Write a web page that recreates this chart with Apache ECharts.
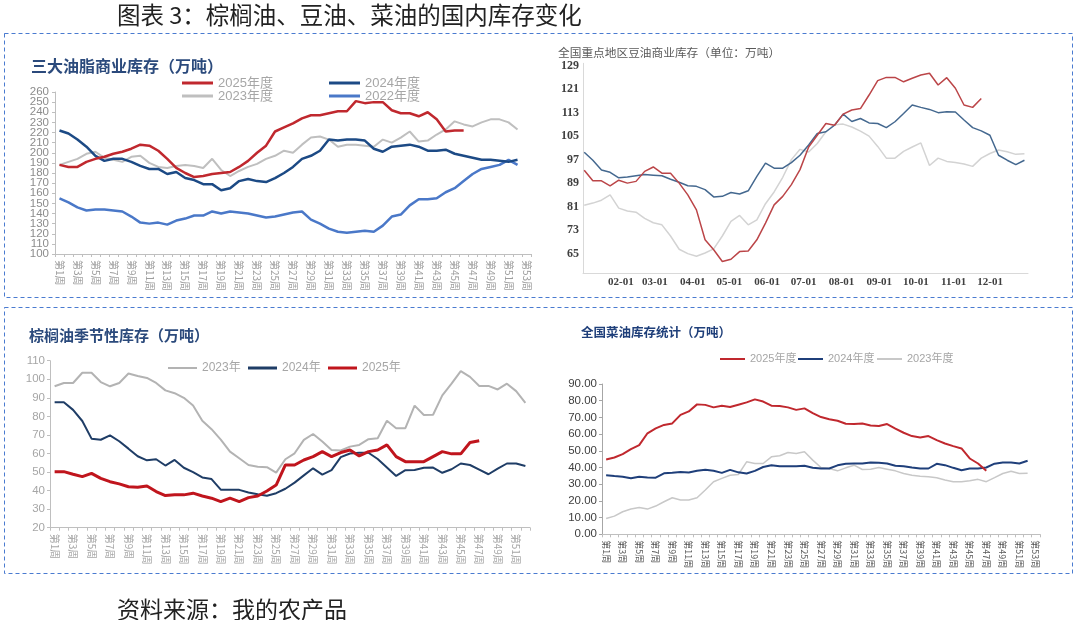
<!DOCTYPE html>
<html><head><meta charset="utf-8">
<script src="https://cdn.jsdelivr.net/npm/echarts@6/dist/echarts.min.js"></script>
<style>html,body{margin:0;padding:0;background:#fff}#c{width:1080px;height:620px}</style>
</head><body><div id="c"></div>
<script>
// ---------- categories / tick labels ----------
const weeks53 = Array.from({length:53},(_,i)=>'第'+(i+1)+'周');
const weeks52 = weeks53.slice(0,52);
const monthTicks = [31,59,90,120,151,181,212,243,273,304,334];
const monthLabels = ['02-01','03-01','04-01','05-01','06-01','07-01','08-01','09-01','10-01','11-01','12-01'];
const soyYTicks = [65,73,81,89,97,105,113,121,129];
const oilYTicksEven = [100,120,140,160,180,200,220,240,260];
const oilYTicksOdd = [110,130,150,170,190,210,230,250];

// ---------- panel 1: 三大油脂商业库存 (weekly) ----------
const oil2025 = [188,186,186,191,194,196,199,201,204,208,207,202,194,185,180,176,177,179,180,181,186,192,200,207,221,225,229,234,237,237,239,241,241,251,249,250,250,242,239,239,236,240,233,221,222,222];
const oil2024 = [222,219,213,206,197,192,194,194,191,187,184,184,179,181,175,173,169,169,163,165,172,174,172,171,175,180,186,194,197,202,213,212,213,213,212,204,201,206,207,208,206,202,202,203,199,197,195,193,193,192,191,193];
const oil2023 = [188,191,194,199,201,195,193,191,196,197,190,186,185,187,188,187,185,194,183,177,182,186,189,194,197,202,200,208,215,216,213,206,208,208,207,206,213,210,215,221,211,212,218,223,231,228,226,230,233,233,230,223];
const oil2022 = [155,151,146,143,144,144,143,142,137,131,130,131,129,133,135,138,138,142,140,142,141,140,138,136,137,139,141,142,134,130,125,122,121,122,123,122,128,137,139,148,154,154,155,161,165,172,179,184,186,188,193,188];

// ---------- panel 2: 豆油商业库存 (weekly from Jan 1) ----------
const soy2025 = [93.4,89.8,89.8,88.1,90,89,89.6,93,94.5,92.4,92.4,89,85,79.9,69.7,66.3,62.3,63.1,65.7,65.9,69.7,75.4,81.6,84.5,88.5,93.6,101.3,105.3,109.3,108.7,112.5,113.9,114.4,119,123.9,125,125,123.5,124.7,125.8,126.4,122.4,124.9,121.3,115.6,114.8,117.8];
const soy2024 = [99.5,96.8,93.5,92.7,90.8,91.1,91.5,91.9,91.7,91.5,90.3,89.3,88.1,87.9,86.8,84.3,84.5,85.8,85.3,86.4,91.3,95.8,94.1,94.1,96,98.5,102,105.9,106.5,108.7,112.5,110,111,109.5,109.3,107.9,109.9,112.7,115.6,114.8,114.1,113,113.3,113.2,110.5,107.9,106.8,105.3,98.5,96.8,95.3,96.8];
const soy2023 = [81.5,82.2,83.2,85,80.5,79.5,79.1,77,75.5,74.8,71,66.5,65,64.1,65.2,66.6,71,76,78,74.8,76.5,82,86,91,97,100.5,99.6,102.5,106.5,108.9,109.1,108.1,106.7,105,101.5,97.5,97.5,99.8,101.3,102.7,95,97.5,96.4,96,95.5,94.7,97.5,99.1,100.3,99.7,98.8,99];

// ---------- panel 3: 棕榈油季节性库存 ----------
const palm2023 = [96.2,98,98,103.5,103.5,98.5,96.2,98,103.1,101.8,100.7,98,94,92.5,90,85.8,77.6,73.1,67.5,61,57.4,53.8,52.9,52.6,49.7,56.9,60.1,67.3,70.5,66.4,61.9,61.6,63.7,64.6,67.7,68.2,77.6,73.6,73.6,85.8,80.7,80.9,91.3,97.6,104.4,101.3,96.4,96.4,94.5,97.6,93.6,87.3];
const palm2024 = [87.6,87.6,83.5,77.5,68,67.4,69.8,66.6,62.6,58.5,56.3,56.9,53.5,56.5,52.3,49.9,47.1,46.2,40.5,40.4,40.4,39,38,37.2,38.6,41,44.3,48.2,52,48.6,51,58,60,60.4,60.4,57,52.5,47.9,51,51.1,52.3,52.4,49.6,51.5,54.6,53.8,51.3,48.8,51.8,54.6,54.6,53.3];
const palm2025 = [50.2,50.2,48.8,47.5,49.3,46.6,44.8,43.6,42.1,41.8,42.5,39.5,37.3,37.7,37.7,38.6,37.1,35.9,34.1,35.9,34.1,36.2,37.1,39.8,43,53.8,53.8,56.5,58.3,61,58.3,60.5,61.9,58.7,61,61.9,64.6,58.3,55.6,55.6,55.6,58.3,61,59.8,59.8,65.9,66.9];

// ---------- panel 4: 全国菜油库存 ----------
const rape2025 = [44.8,46,48,51,53.4,60.5,63.4,65.5,66.4,71.5,73.6,77.8,77.5,76,77,76.2,77.6,79,80.8,79.5,77,76.8,76,74.5,75.4,72.6,70.2,68.9,68,66.2,66,66.3,65.1,64.8,66,63.3,60.8,58.8,58,58.8,56.4,54.4,52.8,51.4,45.4,42.4,38];
const rape2024 = [35.4,34.9,34.5,33.6,34.4,34,33.9,36.5,36.8,37.3,37,38,38.7,38.1,36.8,38.6,37.1,36.4,38,40.3,41.3,40.8,40.8,40.8,41,39.8,39.4,39.4,41.3,42.3,42.4,42.4,43,42.8,42.4,41,40.8,40,39.4,39.4,42.2,41.4,39.8,38.4,39.4,39.4,40,42.3,43,43,42.4,44];
const rape2023 = [9.5,10.9,13.5,15.1,16.1,15.1,16.9,19.5,21.9,20.5,20.5,21.9,26.5,31.5,33.5,35.4,35.8,43.4,42.4,42.4,46.4,47,49,48.4,49.4,44.4,40,39.4,38,39.8,41.4,38.8,39,40,39,38,36.4,35.4,34.8,34.5,33.9,32.5,31.5,31.5,32.1,32.9,31.5,33.9,36.4,37.8,36.4,36.6];

// ---------- styles ----------
const C = {
  red:'#c0282e', navy:'#1c4a85', gray:'#bfbfbf', blue22:'#4a78c8',
  sRed:'#bb4548', sBlue:'#44688f', sGray:'#d3d3d3',
  pGray:'#b3b3b3', pNavy:'#1f3d66', pRed:'#c0151d',
  rRed:'#c0282e', rNavy:'#1f3f7a', rGray:'#c8c8c8'
};
const SANS = '"Liberation Sans", "Noto Sans CJK SC", sans-serif';
const CJK = '"Noto Sans CJK SC", sans-serif';
const SERIF = '"Liberation Serif", serif';
const dayOf = i => 1 + 7.08 * i;
const monthMap = {}; monthTicks.forEach((d,i)=>monthMap[d]=monthLabels[i]);

function lg(name,color,x,y,w,h,fs){
  return {data:[{name:name,itemStyle:{color:color}}], left:x, top:y-(fs+2)/2, icon:'rect',
    itemWidth:w, itemHeight:h, padding:0, selectedMode:false,
    textStyle:{color:'#a6a6a6', fontSize:fs, fontFamily:SANS, lineHeight:fs+2}};
}
function line(name,data,xi,color,width){
  return {name:name, type:'line', data:data, xAxisIndex:xi, yAxisIndex:xi, symbol:'none',
    lineStyle:{color:color,width:width}, itemStyle:{color:color}, smooth:false, animation:false};
}
function catX(gi,data,fs,color,font){
  return {gridIndex:gi, type:'category', data:data, boundaryGap:true,
    axisLine:{show:true,lineStyle:{color:'#bfbfbf'}},
    axisTick:{show:true,interval:0,length:3,lineStyle:{color:'#bfbfbf'}},
    axisLabel:{interval:1, rotate:-90, fontSize:fs, color:color, fontFamily:font, margin:6},
    splitLine:{show:false}};
}
const oilLabel = {fontSize:11.5, color:'#8c8c8c', fontFamily:SANS, margin:6};

const chart = echarts.init(document.getElementById('c'), null, {renderer:'canvas'});
chart.setOption({
  animation:false,
  backgroundColor:'#ffffff',
  grid:[
    {left:55, top:92, width:476, height:162, outerBoundsMode:'none'},
    {left:583, top:63.3, width:445, height:210, outerBoundsMode:'none'},
    {left:50, top:360.7, width:480, height:167, outerBoundsMode:'none'},
    {left:602, top:384, width:438, height:150.3, outerBoundsMode:'none'}
  ],
  xAxis:[
    catX(0, weeks53, 10, '#9e9e9e', CJK),
    {gridIndex:1, type:'value', min:0, max:365,
      axisLine:{show:true,lineStyle:{color:'#d9d9d9'}}, axisTick:{show:false}, splitLine:{show:false},
      axisLabel:{customValues:monthTicks, formatter:v=>monthMap[v]||'', fontSize:11, fontWeight:'bold',
        fontFamily:SERIF, color:'#404040', margin:3}},
    catX(2, weeks52, 10, '#a6a6a6', CJK),
    catX(3, weeks53, 9, '#595959', CJK)
  ],
  yAxis:[
    {gridIndex:0, type:'value', min:100, max:260, interval:10,
      axisLine:{show:true,lineStyle:{color:'#bfbfbf'}}, axisTick:{show:true,length:3,lineStyle:{color:'#bfbfbf'}},
      splitLine:{show:false}, axisLabel:Object.assign({customValues:oilYTicksEven}, oilLabel)},
    {gridIndex:1, type:'value', min:58.3, max:129.8,
      axisLine:{show:true,lineStyle:{color:'#d9d9d9'}}, axisTick:{show:false}, splitLine:{show:false},
      axisLabel:{customValues:soyYTicks, fontSize:12, fontWeight:'bold', fontFamily:SERIF, color:'#404040', margin:4}},
    {gridIndex:2, type:'value', min:20, max:110, interval:10,
      axisLine:{show:true,lineStyle:{color:'#bfbfbf'}}, axisTick:{show:true,length:3,lineStyle:{color:'#bfbfbf'}},
      splitLine:{show:false}, axisLabel:{fontSize:11.5, color:'#a6a6a6', fontFamily:SANS, margin:5,
        showMinLabel:true, showMaxLabel:true}},
    {gridIndex:3, type:'value', min:0, max:90, interval:10,
      axisLine:{show:true,lineStyle:{color:'#a6a6a6'}}, axisTick:{show:true,length:3,lineStyle:{color:'#a6a6a6'}},
      splitLine:{show:false}, axisLabel:{fontSize:11.5, color:'#404040', fontFamily:SANS, margin:5,
        showMinLabel:true, showMaxLabel:true, formatter:v=>v.toFixed(2)}},
    {gridIndex:0, type:'value', min:100, max:260, position:'left',
      axisLine:{show:false}, axisTick:{show:false}, splitLine:{show:false},
      axisLabel:Object.assign({customValues:oilYTicksOdd}, oilLabel)}
  ],
  legend:[
    lg('2025年度', C.red, 182, 83, 31, 3, 13),
    lg('2024年度', C.navy, 329, 83, 31, 3, 13),
    lg('2023年度', C.gray, 182, 96, 31, 3, 13),
    lg('2022年度', C.blue22, 329, 96, 31, 3, 13),
    lg('2023年', C.pGray, 168, 368, 29, 2, 12),
    lg('2024年', C.pNavy, 248, 368, 29, 3, 12),
    lg('2025年', C.pRed, 328, 368, 29, 3, 12),
    lg('2025年度', C.rRed, 720, 359, 25, 2, 11),
    lg('2024年度', C.rNavy, 798, 359, 25, 2, 11),
    lg('2023年度', C.rGray, 877, 359, 25, 2, 11)
  ],
  series:[
    line('2023年度', oil2023, 0, C.gray, 2),
    line('2022年度', oil2022, 0, C.blue22, 2.5),
    line('2024年度', oil2024, 0, C.navy, 2.5),
    line('2025年度', oil2025, 0, C.red, 2.5),

    line('豆油2023', soy2023.map((v,i)=>[dayOf(i),v]), 1, C.sGray, 1.5),
    line('豆油2024', soy2024.map((v,i)=>[dayOf(i),v]), 1, C.sBlue, 1.5),
    line('豆油2025', soy2025.map((v,i)=>[dayOf(i),v]), 1, C.sRed, 1.5),

    line('2023年', palm2023, 2, C.pGray, 2),
    line('2024年', palm2024, 2, C.pNavy, 2),
    line('2025年', palm2025, 2, C.pRed, 3),

    line('2023年度', rape2023, 3, C.rGray, 1.5),
    line('2024年度', rape2024, 3, C.rNavy, 2),
    line('2025年度', rape2025, 3, C.rRed, 2)
  ],
  graphic:[
    {type:'rect', silent:true, shape:{x:4.5,y:33.5,width:1068,height:264}, style:{fill:'none',stroke:'#4a7bd0',lineWidth:1,lineDash:[4,3]}},
    {type:'rect', silent:true, shape:{x:4.5,y:307.5,width:1068,height:266}, style:{fill:'none',stroke:'#4a7bd0',lineWidth:1,lineDash:[4,3]}},
    {type:'text', x:117, y:15, style:{text:'图表 3：棕榈油、豆油、菜油的国内库存变化', font:'23.5px '+CJK, fill:'#222', textVerticalAlign:'middle', verticalAlign:'middle'}},
    {type:'text', x:31, y:66, style:{text:'三大油脂商业库存（万吨）', font:'bold 16px '+CJK, fill:'#2b4a7c', textVerticalAlign:'middle', verticalAlign:'middle'}},
    {type:'text', x:558, y:53, style:{text:'全国重点地区豆油商业库存（单位：万吨）', font:'11.7px '+CJK, fill:'#595959', textVerticalAlign:'middle', verticalAlign:'middle'}},
    {type:'text', x:29, y:335, style:{text:'棕榈油季节性库存（万吨）', font:'bold 15px '+CJK, fill:'#2b4a7c', textVerticalAlign:'middle', verticalAlign:'middle'}},
    {type:'text', x:581, y:332, style:{text:'全国菜油库存统计（万吨）', font:'bold 12.5px '+CJK, fill:'#1f3f7a', textVerticalAlign:'middle', verticalAlign:'middle'}},
    {type:'text', x:117, y:609, style:{text:'资料来源：我的农产品', font:'23px '+CJK, fill:'#222', textVerticalAlign:'middle', verticalAlign:'middle'}}
  ]
});
</script>
</body></html>
